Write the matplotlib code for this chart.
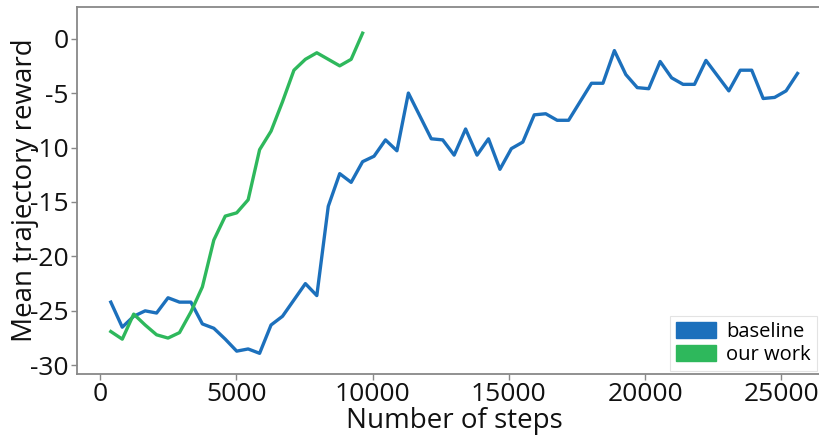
import numpy as np
import matplotlib.pyplot as plt
from matplotlib.patches import Patch

plt.rcParams['font.family'] = ['Open Sans', 'DejaVu Sans']
plt.rcParams['axes.unicode_minus'] = False

# evaluation steps (every ~420 env steps)
steps = [393, 813, 1233, 1653, 2073, 2493, 2913, 3333, 3753, 4173,
         4593, 5013, 5433, 5853, 6273, 6693, 7113, 7533, 7953, 8373,
         8793, 9213, 9633, 10053, 10473, 10893, 11313, 11733, 12153, 12573,
         12993, 13413, 13833, 14253, 14673, 15093, 15513, 15933, 16353, 16773,
         17193, 17613, 18033, 18453, 18873, 19293, 19713, 20133, 20553, 20973,
         21393, 21813, 22233, 22653, 23073, 23493, 23913, 24333, 24753, 25173,
         25593]

baseline = [-24.2, -26.5, -25.5, -25.0, -25.2, -23.8, -24.2, -24.2, -26.2, -26.6,
            -27.6, -28.7, -28.5, -28.9, -26.3, -25.5, -24.0, -22.5, -23.6, -15.4,
            -12.4, -13.2, -11.3, -10.8, -9.3, -10.3, -5.0, -7.1, -9.2, -9.3,
            -10.7, -8.3, -10.7, -9.2, -12.0, -10.1, -9.5, -7.0, -6.9, -7.5,
            -7.5, -5.8, -4.1, -4.1, -1.1, -3.3, -4.5, -4.6, -2.1, -3.6,
            -4.2, -4.2, -2.0, -3.4, -4.8, -2.9, -2.9, -5.5, -5.4, -4.8,
            -3.2]

our_work = [-26.9, -27.6, -25.3, -26.3, -27.2, -27.5, -27.0, -25.1, -22.8, -18.5,
            -16.3, -16.0, -14.8, -10.2, -8.5, -5.8, -2.9, -1.9, -1.3, -1.9,
            -2.5, -1.9, 0.5]

blue = "#1c70bc"
green = "#2eb85c"

fig = plt.figure(figsize=(8.2, 4.4), dpi=100)
ax = fig.add_axes([0.094, 0.15, 0.92, 0.834])

ax.plot(steps, baseline, color=blue, lw=2.4)
ax.plot(steps[:len(our_work)], our_work, color=green, lw=2.4)

ax.set_xlim(-845, 26840)
ax.set_ylim(-30.8, 2.9)
ax.set_xticks([0, 5000, 10000, 15000, 20000, 25000])
ax.set_yticks([0, -5, -10, -15, -20, -25, -30])

for s in ax.spines.values():
    s.set_color("#888888")
    s.set_linewidth(1.3)
ax.tick_params(colors="#888888", labelcolor="#111111", labelsize=19,
               length=4, width=1.0, pad=2)

ax.set_xlabel("Number of steps", fontsize=20, color="#111111", labelpad=0)
ax.set_ylabel("Mean trajectory reward", fontsize=20, color="#111111")
# label sits over the tick labels, like the original figure
ax.yaxis.set_label_coords(-0.05, 0.5)

handles = [Patch(color=blue, label="baseline"), Patch(color=green, label="our work")]
leg = ax.legend(handles=handles, loc="lower right", fontsize=14.5,
                bbox_to_anchor=(0.985, 0.0), frameon=True, fancybox=False,
                handlelength=2.0, handleheight=0.85, handletextpad=0.5,
                labelspacing=0.15, borderpad=0.3, borderaxespad=0.15)
leg.get_frame().set_edgecolor("#dddddd")
leg.get_frame().set_linewidth(0.8)

fig.savefig("out.png", dpi=100)
